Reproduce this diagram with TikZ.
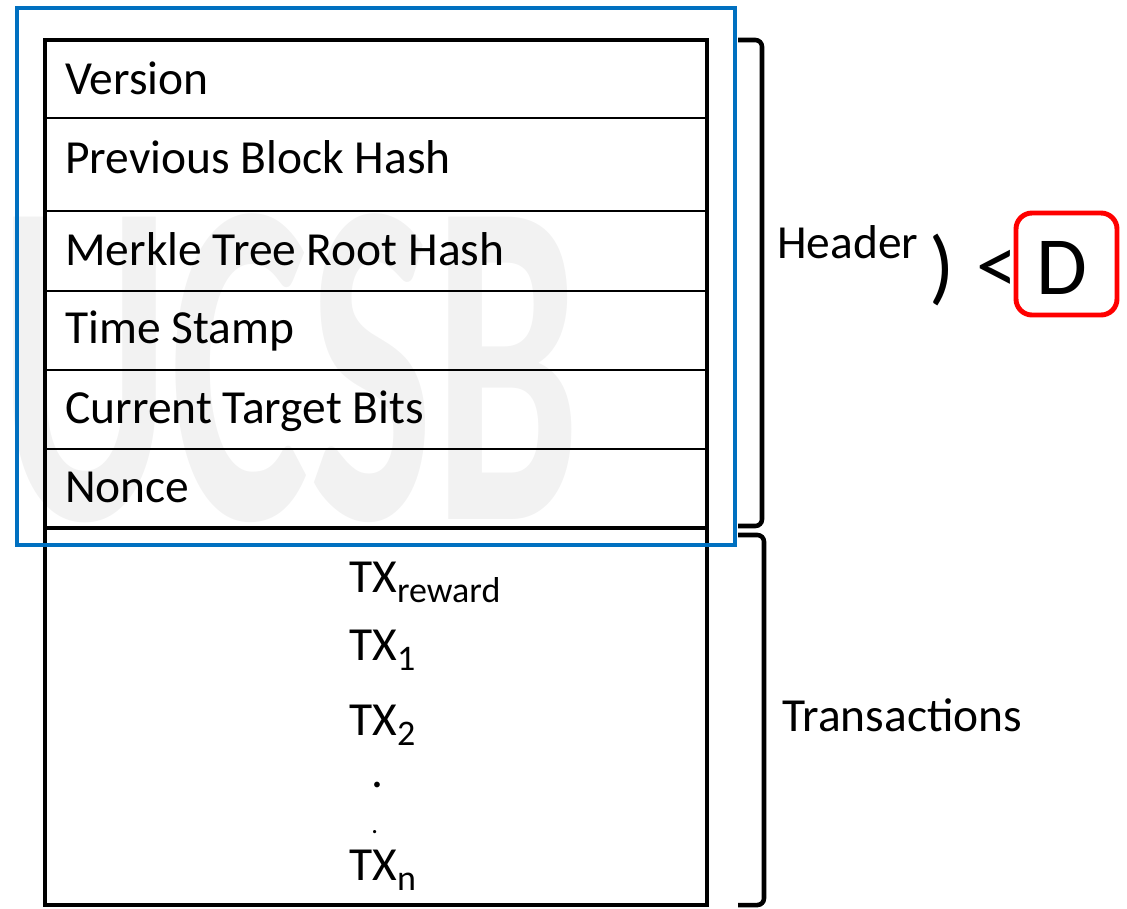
\documentclass[tikz,border=0pt]{standalone}
\usepackage{fontspec}
\setmainfont{Carlito}
\newcommand{\mysub}[1]{\raisebox{-8pt}{\fontsize{27}{30}\selectfont #1}}
\begin{document}
\begin{tikzpicture}[x=0.75pt,y=-0.75pt,
  rowtext/.style={anchor=base west,inner sep=0pt,font=\fontsize{35.6}{40}\selectfont},
  txtext/.style={anchor=base west,inner sep=0pt,font=\fontsize{35.6}{40}\selectfont},
  bigtext/.style={inner sep=0pt,font=\fontsize{62}{70}\selectfont},
  blockline/.style={line width=3pt,draw=black},
  sepline/.style={line width=1.6pt,draw=black},
  bracket/.style={line width=3.4pt,draw=black,rounded corners=5pt},
  bluebox/.style={line width=3.7pt,draw={rgb,255:red,0;green,112;blue,192}},
  redbox/.style={line width=3.7pt,draw=red,rounded corners=12pt}]
\useasboundingbox (0,0) rectangle (1127,908);
% watermark
\node[text=black!5,inner sep=0pt] (wm) at (290,368)
  {\resizebox{435pt}{229pt}{\bfseries UCSB}};
% block
\coordinate (btl) at (45,40);
\coordinate (bbr) at (707,905);
\draw[blockline] (btl) rectangle (bbr);
\foreach \y in {118,211,291,370,449}{
  \draw[sepline] (45,\y) -- (707,\y);
}
\draw[blockline] (45,528) -- (707,528);
% rows
\node[rowtext] (ver) at (65,94) {Version};
\node[rowtext] (prev) at (65,173) {Previous Block Hash};
\node[rowtext] (merk) at (65,265) {Merkle Tree Root Hash};
\node[rowtext] (time) at (65,343) {Time Stamp};
\node[rowtext] (targ) at (65,423) {Current Target Bits};
\node[rowtext] (nonce) at (65,502) {Nonce};
% transactions
\node[txtext] (txr) at (349,592) {TX\mysub{reward}};
\node[txtext] (tx1) at (349,660) {TX\mysub{1}};
\node[txtext] (tx2) at (349,735) {TX\mysub{2}};
\node[txtext] (d1) at (371,787) {.};
\node[txtext,font=\fontsize{20}{24}\selectfont] (d2) at (371,833) {.};
\node[txtext] (txn) at (349,880) {TX\mysub{n}};
% blue box
\draw[bluebox] (17,8) rectangle (735,545);
% brackets
\draw[bracket] (738,40) -- (762,40) -- (762,526) -- (738,526);
\draw[bracket] (738,535) -- (764,535) -- (764,905) -- (738,905);
\node[rowtext] (hdr) at (777,258) {Header};
\node[rowtext] (trans) at (782,731) {Transactions};
% target
\node[bigtext] (par) at (942,270) {)};
\node[bigtext] (lt) at (997,272) {<};
\draw[redbox] (1016,213) rectangle (1117,315);
\node[bigtext] (dd) at (1062,268) {D};
\end{tikzpicture}
\end{document}
